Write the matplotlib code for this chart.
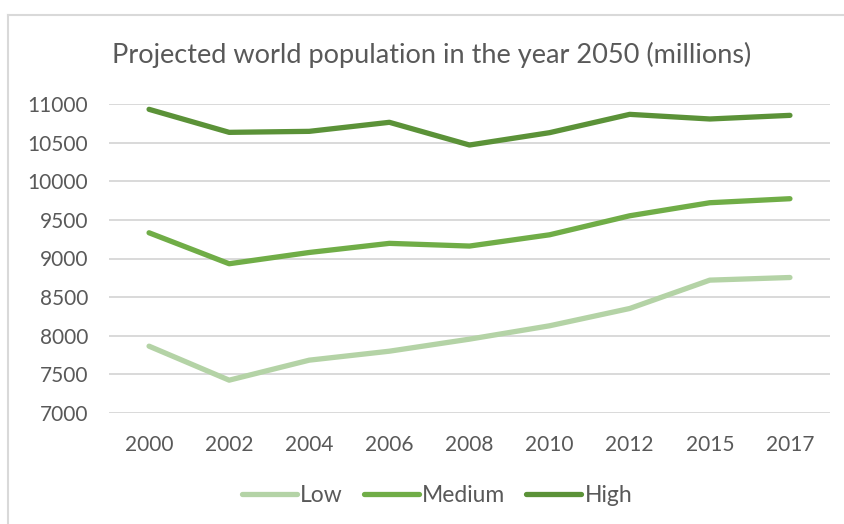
import matplotlib.pyplot as plt
from matplotlib.lines import Line2D

# Projected world population in 2050 (millions), by year of projection
years = ['2000', '2002', '2004', '2006', '2008', '2010', '2012', '2015', '2017']
low = [7865, 7425, 7684, 7800, 7956, 8129, 8353, 8720, 8754]
medium = [9333, 8932, 9078, 9196, 9161, 9307, 9553, 9722, 9774]
high = [10931, 10633, 10646, 10763, 10469, 10629, 10866, 10806, 10853]

series = [('Low', low, '#B4D3A6'),
          ('Medium', medium, '#70AD47'),
          ('High', high, '#5B9238')]

plt.rcParams['font.family'] = ['Lato', 'DejaVu Sans']
text_color = '#595959'

fig = plt.figure(figsize=(8.45, 5.24), dpi=100)
ax = fig.add_axes([109 / 845, 1 - 413 / 524, 721 / 845, 309 / 524])

x = range(len(years))
for name, vals, color in series:
    ax.plot(x, vals, color=color, linewidth=3.8, solid_capstyle='round',
            solid_joinstyle='round', label=name, zorder=3)

ax.set_xlim(-0.5, len(years) - 0.5)
ax.set_ylim(7000, 11000)
ax.set_yticks(range(7000, 11001, 500))
ax.set_xticks(list(x))
ax.set_xticklabels(years)
ax.grid(axis='y', color='#D9D9D9', linewidth=1.4, zorder=0)
ax.tick_params(length=0, labelsize=15, colors=text_color)
ax.tick_params(axis='y', pad=15)
ax.tick_params(axis='x', pad=16)
for s in ax.spines.values():
    s.set_visible(False)

fig.text(432 / 845, 1 - 55 / 524, 'Projected world population in the year 2050 (millions)',
         ha='center', va='center', fontsize=19.5, color=text_color)

# light chart border along top and left
fig.add_artist(Line2D([8.5 / 845, 1], [1 - 14.5 / 524, 1 - 14.5 / 524],
                      transform=fig.transFigure, color='#D9D9D9', linewidth=1.5))
fig.add_artist(Line2D([8.5 / 845, 8.5 / 845], [0, 1 - 14.5 / 524],
                      transform=fig.transFigure, color='#D9D9D9', linewidth=1.5))

leg = fig.legend(loc='center', bbox_to_anchor=(437 / 845, 1 - 496 / 524), ncol=3,
                 frameon=False, fontsize=16.5, handlelength=2.4, handletextpad=0.15,
                 columnspacing=0.9)
for t in leg.get_texts():
    t.set_color(text_color)

fig.savefig('out.png', dpi=100)
